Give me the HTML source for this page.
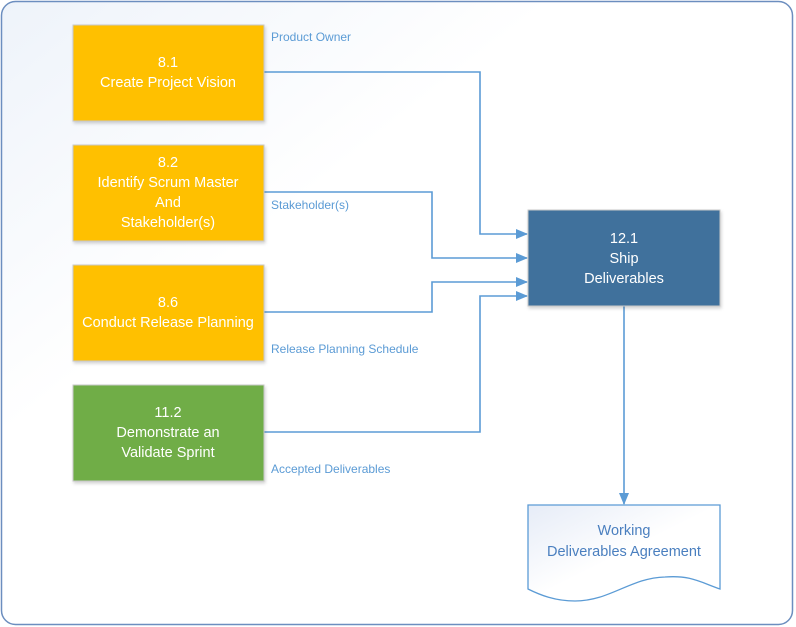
<!DOCTYPE html>
<html><head><meta charset="utf-8"><style>
html,body{margin:0;padding:0;background:#fff;}
svg{display:block;font-family:"Liberation Sans",Calibri,sans-serif;}
</style></head><body>
<svg width="796" height="627" viewBox="0 0 796 627" xmlns="http://www.w3.org/2000/svg">
<defs>
<linearGradient id="bg" x1="0" y1="0" x2="1" y2="1">
<stop offset="0" stop-color="#eef3fa"/><stop offset="0.35" stop-color="#ffffff"/></linearGradient>
<linearGradient id="doc" x1="0" y1="0" x2="1" y2="1">
<stop offset="0" stop-color="#e6ecf7"/><stop offset="0.5" stop-color="#ffffff"/></linearGradient>
<marker id="ar" markerWidth="12" markerHeight="10" refX="11" refY="5" orient="auto" markerUnits="userSpaceOnUse">
<path d="M0,0 L12,5 L0,10 Z" fill="#5b9bd5"/></marker>
<filter id="sh" x="-10%" y="-10%" width="130%" height="130%"><feDropShadow dx="1" dy="2" stdDeviation="1.5" flood-color="#000" flood-opacity="0.18"/></filter>
</defs>
<rect x="1.5" y="1.5" width="791" height="623" rx="14" fill="url(#bg)" stroke="#6c8ebf" stroke-width="1.5"/>
<g fill="none" stroke="#5b9bd5" stroke-width="1.6">
<polyline points="264,72 480,72 480,234 527,234" marker-end="url(#ar)"/>
<polyline points="264,192 432,192 432,258 527,258" marker-end="url(#ar)"/>
<polyline points="264,312 432,312 432,282 527,282" marker-end="url(#ar)"/>
<polyline points="264,432 480,432 480,296 527,296" marker-end="url(#ar)"/>
<line x1="624" y1="306" x2="624" y2="504" marker-end="url(#ar)"/>
</g>
<g filter="url(#sh)" stroke="#c9c9c9" stroke-width="1">
<rect x="73" y="25" width="191" height="96" fill="#ffc000"/>
<rect x="73" y="145" width="191" height="96" fill="#ffc000"/>
<rect x="73" y="265" width="191" height="96" fill="#ffc000"/>
<rect x="73" y="385" width="191" height="96" fill="#70ad47"/>
<rect x="528" y="210" width="192" height="96" fill="#41719c"/>
</g>
<path d="M528,505 L720,505 L720,589 C700,582 690,575 665,577 C630,578 610,601 575,601 C555,601 540,595 528,589 Z" fill="url(#doc)" stroke="#5b9bd5" stroke-width="1.3"/>
<g fill="#fff" font-size="14.5" text-anchor="middle">
<text x="168" y="67">8.1</text><text x="168" y="87">Create Project Vision</text>
<text x="168" y="167">8.2</text><text x="168" y="187">Identify Scrum Master</text><text x="168" y="207">And</text><text x="168" y="227">Stakeholder(s)</text>
<text x="168" y="307">8.6</text><text x="168" y="327">Conduct Release Planning</text>
<text x="168" y="417">11.2</text><text x="168" y="437">Demonstrate an</text><text x="168" y="457">Validate Sprint</text>
<text x="624" y="243">12.1</text><text x="624" y="263">Ship</text><text x="624" y="283">Deliverables</text>
</g>
<g fill="#4a7fbf" font-size="14.5" text-anchor="middle">
<text x="624" y="535">Working</text><text x="624" y="556">Deliverables Agreement</text>
</g>
<g fill="#5b9bd5" font-size="12">
<text x="271" y="41">Product Owner</text>
<text x="271" y="209">Stakeholder(s)</text>
<text x="271" y="353">Release Planning Schedule</text>
<text x="271" y="473">Accepted Deliverables</text>
</g>
</svg>
</body></html>
